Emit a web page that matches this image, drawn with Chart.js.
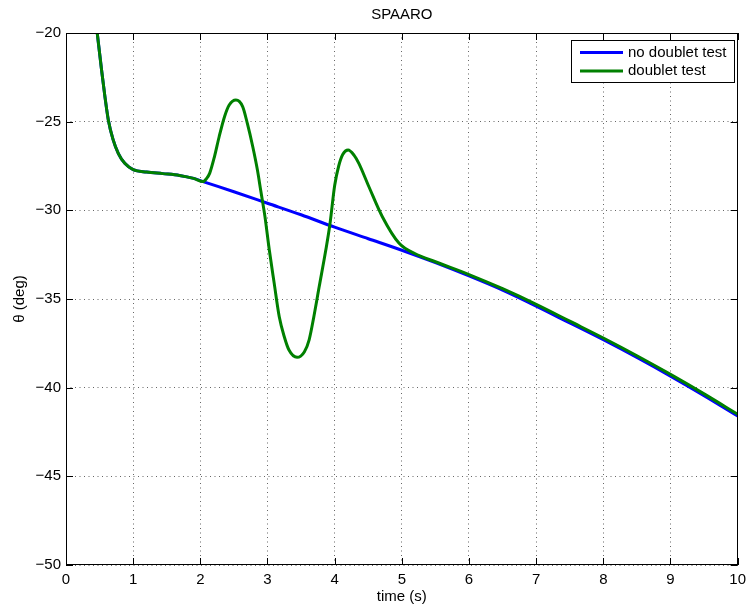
<!DOCTYPE html>
<html>
<head>
<meta charset="utf-8">
<title>SPAARO</title>
<script src="https://cdn.jsdelivr.net/npm/chart.js@4.4.1/dist/chart.umd.min.js"></script>
<style>
    html, body { margin: 0; padding: 0; background: #fff; }
    #chartTheta { display: block; }
</style>
</head>
<body>
<canvas id="chartTheta" width="752" height="610"></canvas>
<script>
// Datos
const timeNoDoublet = [0.465, 0.53, 0.58, 0.63, 0.70, 0.78, 0.875, 1.0, 1.2, 1.44, 1.69, 1.9, 2.04,
    2.5, 3, 3.5, 4, 4.5, 5, 5.5, 6, 6.5, 7, 7.5, 8, 8.5, 9, 9.5, 10];
const thetaNoDoublet = [-20, -22.1, -23.6, -24.9, -26.0, -26.8, -27.35, -27.7, -27.84, -27.93, -28.03, -28.2, -28.38,
    -28.95, -29.6, -30.25, -30.95, -31.6, -32.25, -32.95, -33.7, -34.5, -35.4, -36.35, -37.3, -38.3, -39.35, -40.45, -41.6];

const timeDoublet = [0.465, 0.53, 0.58, 0.63, 0.70, 0.78, 0.875, 1.0, 1.2, 1.44, 1.69, 1.9, 2.04,
    2.09, 2.14, 2.21, 2.28, 2.36, 2.43, 2.53, 2.63, 2.70, 2.78, 2.85, 2.90, 2.96, 3.027, 3.10, 3.175, 3.25, 3.32, 3.44,
    3.55, 3.62, 3.69, 3.77, 3.868, 3.93, 4.0, 4.06, 4.12, 4.2, 4.29, 4.36, 4.51, 4.71, 4.96, 5.2, 5.5,
    6, 6.5, 7, 7.5, 8, 8.5, 9, 9.5, 10];
const thetaDoublet = [-20, -22.1, -23.6, -24.9, -26.0, -26.8, -27.35, -27.7, -27.84, -27.93, -28.03, -28.2, -28.38,
    -28.22, -27.9, -26.98, -25.85, -24.72, -24.06, -23.78, -24.15, -25.1, -26.4, -27.73, -28.9, -30.3, -32.24, -34.12, -36.0, -37.13, -37.88, -38.29,
    -37.97, -37.3, -36.0, -34.3, -32.24, -30.77, -28.6, -27.5, -26.85, -26.6, -26.9, -27.35, -28.67, -30.36, -31.86, -32.45, -32.9,
    -33.62, -34.42, -35.3, -36.25, -37.2, -38.2, -39.25, -40.35, -41.5];

const xTicks = [0, 1, 2, 3, 4, 5, 6, 7, 8, 9, 10];
const yTicks = [-50, -45, -40, -35, -30, -25, -20];

const seriesLabels = ['no doublet test', 'doublet test'];
const seriesColors = ['#0000ff', '#008000'];

const FONT = { family: "'Liberation Sans', Arial, Helvetica, sans-serif", size: 15 };

const toPoints = (xs, ys) => xs.map((x, i) => ({ x: x, y: ys[i] }));

// caja, ticks hacia adentro y leyenda al estilo matlab
const matlabAxes = {
    id: 'matlabAxes',
    beforeDatasetsDraw(chart) {
        const { ctx, chartArea: a, scales } = chart;
        ctx.save();
        ctx.strokeStyle = '#000';
        ctx.lineWidth = 1;
        ctx.beginPath();
        xTicks.forEach(v => {
            const px = Math.round(scales.x.getPixelForValue(v)) + 0.5;
            ctx.moveTo(px, a.bottom); ctx.lineTo(px, a.bottom - 7);
            ctx.moveTo(px, a.top); ctx.lineTo(px, a.top + 7);
        });
        yTicks.forEach(v => {
            const py = Math.round(scales.y.getPixelForValue(v)) + 0.5;
            ctx.moveTo(a.left, py); ctx.lineTo(a.left + 7, py);
            ctx.moveTo(a.right, py); ctx.lineTo(a.right - 7, py);
        });
        ctx.stroke();
        ctx.restore();
    },
    afterDraw(chart) {
        const { ctx, chartArea: a } = chart;
        ctx.save();
        ctx.strokeStyle = '#000';
        ctx.lineWidth = 1;
        ctx.strokeRect(Math.round(a.left) + 0.5, Math.round(a.top) + 0.5,
            Math.round(a.right - a.left) - 1, Math.round(a.bottom - a.top) - 1);

        // leyenda
        const bx = 571.5, by = 40.5, bw = 163, bh = 42;
        ctx.fillStyle = '#fff';
        ctx.fillRect(bx, by, bw, bh);
        ctx.strokeRect(bx, by, bw, bh);
        ctx.font = FONT.size + 'px ' + FONT.family;
        ctx.textBaseline = 'middle';
        ctx.textAlign = 'left';
        chart.data.datasets.forEach((ds, i) => {
            const y = 52.5 + i * 18.5;
            ctx.strokeStyle = ds.borderColor;
            ctx.lineWidth = 3;
            ctx.beginPath();
            ctx.moveTo(580, y); ctx.lineTo(623, y);
            ctx.stroke();
            ctx.fillStyle = '#000';
            ctx.fillText(ds.label, 628, y);
        });
        ctx.restore();
    }
};

new Chart(document.getElementById('chartTheta'), {
    type: 'line',
    data: {
        datasets: [
            {
                label: seriesLabels[0],
                data: toPoints(timeNoDoublet, thetaNoDoublet),
                borderColor: seriesColors[0],
                borderWidth: 3,
                pointRadius: 0,
                cubicInterpolationMode: 'monotone',
                order: 1,
            },
            {
                label: seriesLabels[1],
                data: toPoints(timeDoublet, thetaDoublet),
                borderColor: seriesColors[1],
                borderWidth: 3,
                pointRadius: 0,
                cubicInterpolationMode: 'monotone',
                order: 0,
            },
        ],
    },
    options: {
        responsive: false,
        animation: false,
        devicePixelRatio: 1,
        layout: { padding: { left: 0, right: 11, top: 0, bottom: 0 } },
        plugins: {
            legend: { display: false },
            tooltip: { enabled: false },
            title: {
                display: true,
                text: 'SPAARO',
                color: '#000',
                fullSize: false,
                font: { family: FONT.family, size: FONT.size, weight: 'normal' },
                padding: { top: 6, bottom: 9 },
            },
        },
        scales: {
            x: {
                type: 'linear',
                min: 0,
                max: 10,
                afterFit: scale => { scale.height = 45; },
                afterBuildTicks: scale => { scale.ticks = xTicks.map(v => ({ value: v })); },
                ticks: { color: '#000', font: FONT, padding: 6, maxRotation: 0 },
                grid: { color: 'rgba(0,0,0,0.6)', drawTicks: false },
                border: { display: false, dash: [1, 3.5] },
                title: { display: true, text: 'time (s)', color: '#000', font: FONT, padding: { top: 0, bottom: 4 } },
            },
            y: {
                type: 'linear',
                min: -50,
                max: -20,
                afterFit: scale => { scale.width = 66; },
                afterBuildTicks: scale => { scale.ticks = yTicks.map(v => ({ value: v })); },
                ticks: {
                    color: '#000',
                    font: FONT,
                    padding: 5,
                    callback: v => String(v).replace('-', '\u2212'),
                },
                grid: { color: 'rgba(0,0,0,0.6)', drawTicks: false },
                border: { display: false, dash: [1, 3.5] },
                title: { display: true, text: '\u03b8 (deg)', color: '#000', font: FONT, padding: { top: 11, bottom: 0 } },
            },
        },
    },
    plugins: [matlabAxes],
});
</script>
</body>
</html>
